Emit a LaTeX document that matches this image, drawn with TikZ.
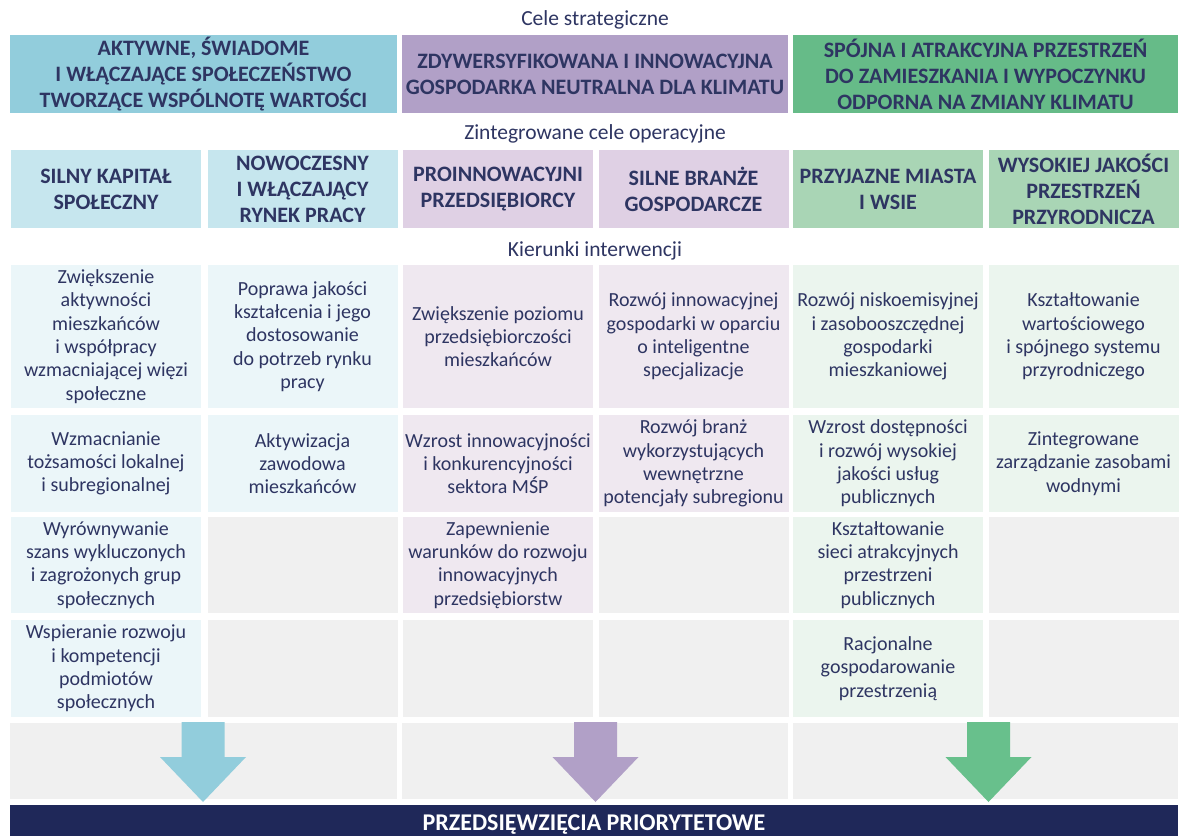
\documentclass[tikz,border=0pt]{standalone}
\usepackage{fontspec}
\setmainfont{Carlito}
\usepackage{tikz}

\definecolor{ink}{HTML}{2E3562}
\definecolor{strteal}{HTML}{92CDDC}
\definecolor{strpurple}{HTML}{B1A0C7}
\definecolor{strgreen}{HTML}{66BB88}
\definecolor{opteal}{HTML}{C6E6EE}
\definecolor{oppurple}{HTML}{DFD0E4}
\definecolor{opgreen}{HTML}{A9D5B5}
\definecolor{kteal}{HTML}{EBF6F9}
\definecolor{kpurple}{HTML}{EFE8F0}
\definecolor{kgreen}{HTML}{EBF5EE}
\definecolor{kempty}{HTML}{F0F0F0}
\definecolor{navy}{HTML}{1F2859}
\definecolor{arrgreen}{HTML}{68C08C}

\begin{document}
\begin{tikzpicture}[x=1pt,y=1pt,yscale=-1,xscale=1,
  box/.style={rectangle, inner sep=0pt, align=center, text=ink},
  cel/.style={box, minimum height=78pt, font=\bfseries\fontsize{22}{26}\selectfont},
  kier/.style={box, minimum width=190pt, font=\fontsize{20}{23.3}\selectfont},
  rowa/.style={minimum height=143pt},
  rowb/.style={minimum height=97pt},
  rowc/.style={minimum height=96pt},
  rowd/.style={minimum height=97pt},
  opis/.style={anchor=base, inner sep=0pt, text=ink, font=\fontsize{21.5}{25}\selectfont}]
\useasboundingbox (0,0) rectangle (1179,836);

% Text Node
\node[opis] (lcele) at (595,25) {Cele strategiczne};
\node[opis] (lzint) at (595,139) {Zintegrowane cele operacyjne};
\node[opis] (lkier) at (595,256) {Kierunki interwencji};

%Shape: Rectangle - cele strategiczne
\node[cel, fill=strteal, minimum width=387pt] (sA) at (203.5,74) {AKTYWNE, ŚWIADOME\\I WŁĄCZAJĄCE SPOŁECZEŃSTWO\\TWORZĄCE WSPÓLNOTĘ WARTOŚCI};
\node[cel, fill=strpurple, minimum width=386pt] (sB) at (595,74) {ZDYWERSYFIKOWANA I INNOWACYJNA\\GOSPODARKA NEUTRALNA DLA KLIMATU};
\node[cel, fill=strgreen, minimum width=385pt] (sC) at (985.5,74) {SPÓJNA I ATRAKCYJNA PRZESTRZEŃ\\DO ZAMIESZKANIA I WYPOCZYNKU\\ODPORNA NA ZMIANY KLIMATU};

%Shape: Rectangle - cele operacyjne
\node[cel, fill=opteal, minimum width=190pt] (o1) at (106,189) {SILNY KAPITAŁ\\SPOŁECZNY};
\node[cel, fill=opteal, minimum width=190pt] (o2) at (302.5,189) {NOWOCZESNY\\I WŁĄCZAJĄCY\\RYNEK PRACY};
\node[cel, fill=oppurple, minimum width=190pt] (o3) at (498,189) {PROINNOWACYJNI\\PRZEDSIĘBIORCY};
\node[cel, fill=oppurple, minimum width=190pt] (o4) at (693.5,189) {SILNE BRANŻE\\GOSPODARCZE};
\node[cel, fill=opgreen, minimum width=190pt] (o5) at (888,189) {PRZYJAZNE MIASTA\\I WSIE};
\node[cel, fill=opgreen, minimum width=190pt] (o6) at (1083.5,189) {WYSOKIEJ JAKOŚCI\\PRZESTRZEŃ\\PRZYRODNICZA};

%Shape: Rectangle - kierunki, row 1
\node[kier, rowa, fill=kteal] (k11) at (106,336.5) {Zwiększenie\\aktywności\\mieszkańców\\i współpracy\\wzmacniającej więzi\\społeczne};
\node[kier, rowa, fill=kteal] (k12) at (302.5,336.5) {Poprawa jakości\\kształcenia i jego\\dostosowanie\\do potrzeb rynku\\pracy};
\node[kier, rowa, fill=kpurple] (k13) at (498,336.5) {Zwiększenie poziomu\\przedsiębiorczości\\mieszkańców};
\node[kier, rowa, fill=kpurple] (k14) at (693.5,336.5) {Rozwój innowacyjnej\\gospodarki w oparciu\\o inteligentne\\specjalizacje};
\node[kier, rowa, fill=kgreen] (k15) at (888,336.5) {Rozwój niskoemisyjnej\\i zasobooszczędnej\\gospodarki\\mieszkaniowej};
\node[kier, rowa, fill=kgreen] (k16) at (1083.5,336.5) {Kształtowanie\\wartościowego\\i spójnego systemu\\przyrodniczego};

%Shape: Rectangle - kierunki, row 2
\node[kier, rowb, fill=kteal] (k21) at (106,463.5) {Wzmacnianie\\tożsamości lokalnej\\i subregionalnej};
\node[kier, rowb, fill=kteal] (k22) at (302.5,463.5) {Aktywizacja\\zawodowa\\mieszkańców};
\node[kier, rowb, fill=kpurple] (k23) at (498,463.5) {Wzrost innowacyjności\\i konkurencyjności\\sektora MŚP};
\node[kier, rowb, fill=kpurple] (k24) at (693.5,463.5) {Rozwój branż\\wykorzystujących\\wewnętrzne\\potencjały subregionu};
\node[kier, rowb, fill=kgreen] (k25) at (888,463.5) {Wzrost dostępności\\i rozwój wysokiej\\jakości usług\\publicznych};
\node[kier, rowb, fill=kgreen] (k26) at (1083.5,463.5) {Zintegrowane\\zarządzanie zasobami\\wodnymi};

%Shape: Rectangle - kierunki, row 3
\node[kier, rowc, fill=kteal] (k31) at (106,565) {Wyrównywanie\\szans wykluczonych\\i zagrożonych grup\\społecznych};
\node[kier, rowc, fill=kempty] (k32) at (302.5,565) {};
\node[kier, rowc, fill=kpurple] (k33) at (498,565) {Zapewnienie\\warunków do rozwoju\\innowacyjnych\\przedsiębiorstw};
\node[kier, rowc, fill=kempty] (k34) at (693.5,565) {};
\node[kier, rowc, fill=kgreen] (k35) at (888,565) {Kształtowanie\\sieci atrakcyjnych\\przestrzeni\\publicznych};
\node[kier, rowc, fill=kempty] (k36) at (1083.5,565) {};

%Shape: Rectangle - kierunki, row 4
\node[kier, rowd, fill=kteal] (k41) at (106,668.5) {Wspieranie rozwoju\\i kompetencji\\podmiotów\\społecznych};
\node[kier, rowd, fill=kempty] (k42) at (302.5,668.5) {};
\node[kier, rowd, fill=kempty] (k43) at (498,668.5) {};
\node[kier, rowd, fill=kempty] (k44) at (693.5,668.5) {};
\node[kier, rowd, fill=kgreen] (k45) at (888,668.5) {Racjonalne\\gospodarowanie\\przestrzenią};
\node[kier, rowd, fill=kempty] (k46) at (1083.5,668.5) {};

%Shape: Rectangle - pas strzalek
\node[box, fill=kempty, minimum width=387pt, minimum height=76pt] (pA) at (203.5,761) {};
\node[box, fill=kempty, minimum width=386pt, minimum height=76pt] (pB) at (595,761) {};
\node[box, fill=kempty, minimum width=385pt, minimum height=76pt] (pC) at (985.5,761) {};

%Shape: Rectangle - przedsiewziecia
\node[box, fill=navy, text=white, minimum width=1168pt, minimum height=40pt, font=\bfseries\fontsize{24}{28}\selectfont] (prio) at (594,825) {PRZEDSIĘWZIĘCIA PRIORYTETOWE};

%Shape: Arrow
\fill[strteal] (181.5,722) -- (224.5,722) -- (224.5,757) -- (246,757) -- (203,802) -- (160,757) -- (181.5,757) -- cycle ;
\fill[strpurple] (574,722) -- (617,722) -- (617,757) -- (638.5,757) -- (595.5,802) -- (552.5,757) -- (574,757) -- cycle ;
\fill[arrgreen] (967,722) -- (1010,722) -- (1010,757) -- (1031.5,757) -- (988.5,802) -- (945.5,757) -- (967,757) -- cycle ;
\end{tikzpicture}
\end{document}
